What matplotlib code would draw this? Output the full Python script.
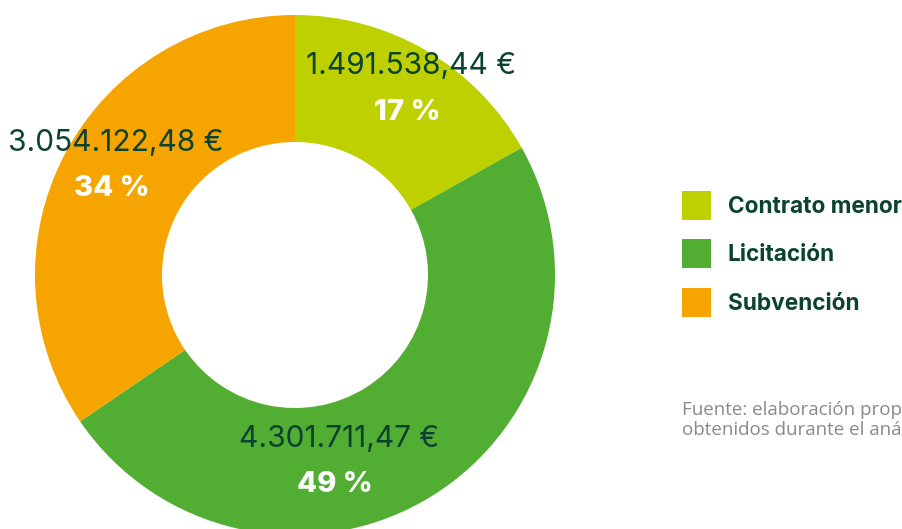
import matplotlib
matplotlib.use('Agg')
import matplotlib.pyplot as plt
from matplotlib.patches import Patch

categories = ['Contrato menor', 'Licitación', 'Subvención']
values = [1491538.44, 4301711.47, 3054122.48]
amount_labels = ['1.491.538,44 €', '4.301.711,47 €', '3.054.122,48 €']
pct_labels = ['17 %', '49 %', '34 %']
colors = ['#bed000', '#52ae33', '#f6a500']
text_color = '#0b4230'

# label anchor points (pixels, origin bottom-left)
label_pos = [(411, 463), (339, 90), (116, 386)]

plt.rcParams['font.family'] = ['Inter', 'DejaVu Sans']

fig = plt.figure(figsize=(9.02, 5.29), dpi=100)
ax = fig.add_axes([0, 0, 1, 1])

ax.pie(values, colors=colors, startangle=90, counterclock=False,
       radius=260, center=(295, 254),
       wedgeprops=dict(width=127, linewidth=0))

for (x, y), amt, pct in zip(label_pos, amount_labels, pct_labels):
    ax.text(x, y, amt, ha='center', va='center', fontsize=21.5,
            color=text_color)
    ax.text(x - 4, y - 46, pct, ha='center', va='center', fontsize=21,
            fontweight='heavy', color='white')

handles = [Patch(facecolor=c, edgecolor='none') for c in colors]
ax.legend(handles, categories, loc='upper left', bbox_to_anchor=(682, 338),
          bbox_transform=ax.transData, frameon=False, borderpad=0,
          borderaxespad=0, handlelength=1.28, handleheight=1.6,
          handletextpad=0.75, labelspacing=0.85,
          prop=dict(family='Inter', weight='bold', size=16.3),
          labelcolor=text_color)

ax.text(682, 109, 'Fuente: elaboración propia a partir de los datos\n'
        'obtenidos durante el análisis', ha='left', va='center',
        fontsize=13.5, color='#8a8a8a', family='Open Sans', linespacing=1.1)

ax.set_xlim(0, 902)
ax.set_ylim(0, 529)
ax.set_aspect('equal')
ax.axis('off')

fig.savefig('out.png', dpi=100)
